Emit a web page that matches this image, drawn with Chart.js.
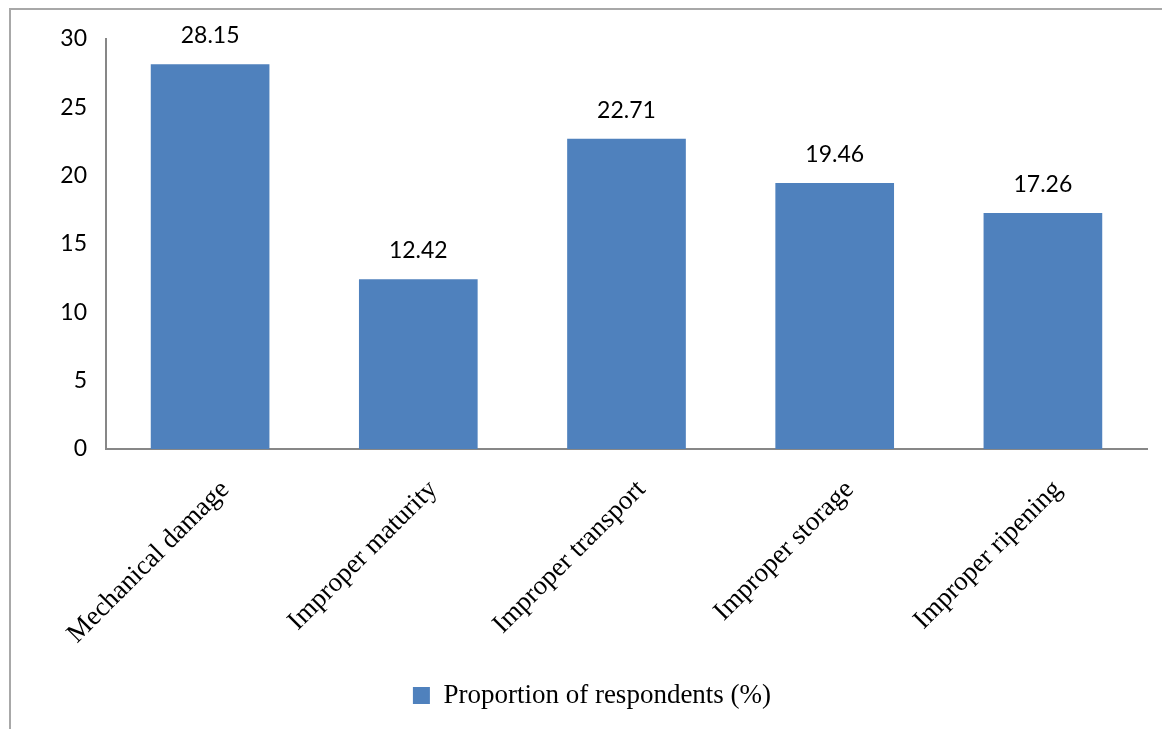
<!DOCTYPE html>
<html>
<head>
<meta charset="utf-8">
<script src="https://cdn.jsdelivr.net/npm/chart.js@4.4.1/dist/chart.umd.min.js"></script>
<style>
  html, body { margin: 0; padding: 0; background: #fff; overflow: hidden; width: 1162px; height: 729px; }
  #frame { position: absolute; left: 9px; top: 8px; width: 1170px; height: 740px;
           border-left: 2px solid #a8a8a8; border-top: 2px solid #a8a8a8; }
  #wrap { position: absolute; left: 11px; top: 10px; width: 1162px; height: 719px; }
</style>
</head>
<body>
<div id="frame"></div>
<div id="wrap"><canvas id="c"></canvas></div>
<script>
const categories = ["Mechanical damage", "Improper maturity", "Improper transport", "Improper storage", "Improper ripening"];
const proportions = [28.15, 12.42, 22.71, 19.46, 17.26];
const yTicks = [0, 5, 10, 15, 20, 25, 30];
const seriesName = "Proportion of respondents (%)";

const valueLabels = {
  id: 'valueLabels',
  afterDatasetsDraw(chart) {
    const ctx = chart.ctx;
    const meta = chart.getDatasetMeta(0);
    ctx.save();
    ctx.font = '23px Lato';
    ctx.fillStyle = '#000';
    ctx.textAlign = 'center';
    ctx.textBaseline = 'alphabetic';
    meta.data.forEach((bar, i) => {
      ctx.fillText(proportions[i].toFixed(2), bar.x, bar.y - 21);
    });
    ctx.restore();
  }
};

new Chart(document.getElementById('c'), {
  type: 'bar',
  data: {
    labels: categories,
    datasets: [{
      label: seriesName,
      data: proportions,
      backgroundColor: '#4F81BD',
      borderWidth: 0,
      categoryPercentage: 1.0,
      barPercentage: 0.57
    }]
  },
  options: {
    responsive: true,
    maintainAspectRatio: false,
    animation: false,
    layout: { padding: { top: 29, right: 26, bottom: 10, left: 26 } },
    plugins: {
      tooltip: { enabled: false },
      legend: {
        position: 'bottom',
        labels: {
          boxWidth: 17, boxHeight: 17, padding: 10,
          color: '#000',
          font: { family: '"Liberation Serif", "Times New Roman", serif', size: 27 }
        }
      }
    },
    scales: {
      x: {
        grid: { display: false },
        border: { display: true, color: '#878787', width: 2 },
        ticks: {
          minRotation: 45, maxRotation: 45, padding: 17, labelOffset: 15, color: '#000',
          font: { family: '"Liberation Serif", "Times New Roman", serif', size: 27 }
        },
        afterFit(scale) { scale.height = 223; }
      },
      y: {
        min: 0, max: 30,
        afterBuildTicks(scale) { scale.ticks = yTicks.map(v => ({ value: v })); },
        grid: { display: false },
        border: { display: true, color: '#878787', width: 2 },
        ticks: {
          padding: 11, color: '#000',
          font: { family: 'Lato', size: 23 }
        },
        afterFit(scale) { scale.width = 69; }
      }
    }
  },
  plugins: [valueLabels]
});
</script>
</body>
</html>
